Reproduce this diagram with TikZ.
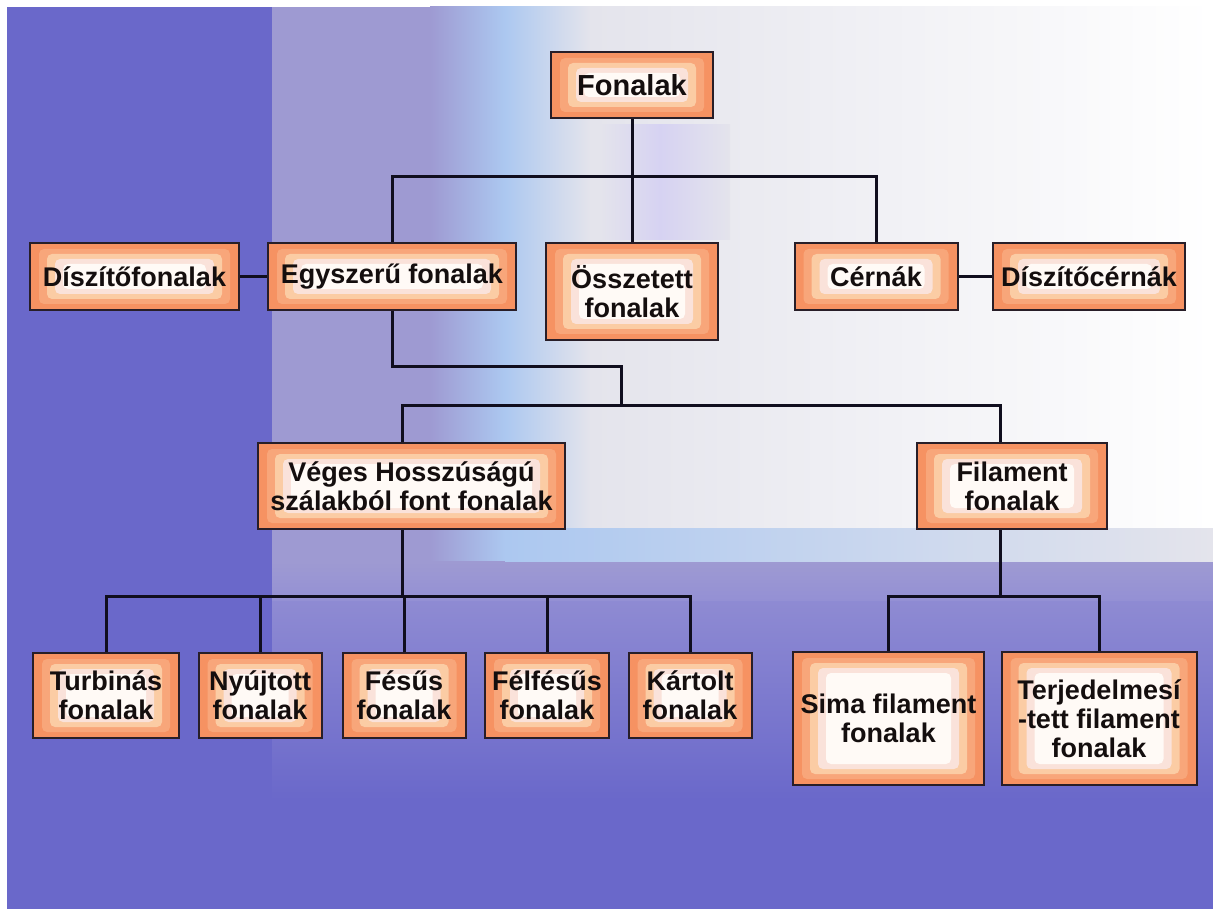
\documentclass[tikz,border=0pt]{standalone}
\usepackage{fontspec}
\setmainfont{Liberation Sans}
\definecolor{bgblue}{RGB}{106,104,202}
\definecolor{lav}{RGB}{158,154,210}
\definecolor{lavtwo}{RGB}{148,144,212}
\definecolor{lightblue}{RGB}{172,200,240}
\definecolor{greyw}{RGB}{228,228,236}
\definecolor{lpur}{RGB}{214,210,242}
\definecolor{orone}{RGB}{246,146,98}
\definecolor{ortwo}{RGB}{248,166,122}
\definecolor{orthree}{RGB}{251,204,164}
\definecolor{orfour}{RGB}{250,226,218}
\definecolor{orfive}{RGB}{255,250,246}
\definecolor{boxline}{RGB}{40,30,40}
\definecolor{lnc}{RGB}{16,14,30}
\definecolor{txt}{RGB}{20,14,14}
\begin{document}
\begin{tikzpicture}[x=1pt,y=-1pt,
  inset/.style={rounded corners=5pt},
  box/.style={draw=boxline, line width=2pt, fill=orone, inner sep=0pt,
    align=center, text=txt, font=\bfseries\fontsize{27}{29}\selectfont,
    path picture={
      \fill[ortwo,inset] ([xshift=9pt,yshift=-6pt]path picture bounding box.north west) rectangle ([xshift=-9pt,yshift=6pt]path picture bounding box.south east);
      \fill[orthree,inset] ([xshift=17pt,yshift=-11pt]path picture bounding box.north west) rectangle ([xshift=-17pt,yshift=11pt]path picture bounding box.south east);
      \fill[orfour,inset] ([xshift=25pt,yshift=-16pt]path picture bounding box.north west) rectangle ([xshift=-25pt,yshift=16pt]path picture bounding box.south east);
      \fill[orfive,inset] ([xshift=33pt,yshift=-21pt]path picture bounding box.north west) rectangle ([xshift=-33pt,yshift=21pt]path picture bounding box.south east);
    }},
  conn/.style={draw=lnc, line width=3pt}]
\useasboundingbox (0,0) rectangle (1213,909);
% background
\fill[white] (0,0) rectangle (1213,909);
\fill[bgblue] (7,7) rectangle (1213,909);
\fill[lav] (272,7) rectangle (1213,570);
\shade[top color=lavtwo, bottom color=bgblue] (272,570) rectangle (1213,800);
\shade[left color=lav, right color=lightblue] (430,7) rectangle (505,560);
\shade[left color=lightblue, right color=greyw] (505,7) rectangle (590,545);
\shade[left color=greyw, right color=white] (590,7) rectangle (1213,545);
\shade[left color=greyw, right color=lpur] (600,125) rectangle (660,240);
\shade[left color=lpur, right color=greyw] (660,125) rectangle (730,240);
\shade[left color=lightblue, right color=greyw] (505,528) rectangle (1213,565);
\shade[top color=lav, bottom color=lavtwo] (272,562) rectangle (1213,600);

% nodes
\node[box, minimum width=162pt, minimum height=66pt, font=\bfseries\fontsize{29}{32}\selectfont] (top) at (632,85) {Fonalak};
\node[box, minimum width=209pt, minimum height=67pt] (disz) at (134.5,276.5) {Díszítőfonalak};
\node[box, minimum width=248pt, minimum height=67pt] (egy) at (392,276.5) {Egyszerű fonalak};
\node[box, minimum width=172pt, minimum height=97pt] (ossz) at (632,291.5) {Összetett\\fonalak};
\node[box, minimum width=163pt, minimum height=67pt] (cern) at (876,276.5) {Cérnák};
\node[box, minimum width=192pt, minimum height=67pt] (dcern) at (1089,276.5) {Díszítőcérnák};
\node[box, minimum width=307pt, minimum height=86pt] (veges) at (411.5,486) {Véges Hosszúságú\\szálakból font fonalak};
\node[box, minimum width=190pt, minimum height=86pt] (fil) at (1012,486) {Filament\\fonalak};
\node[box, minimum width=146pt, minimum height=85pt] (turb) at (106,695.5) {Turbinás\\fonalak};
\node[box, minimum width=123pt, minimum height=85pt] (nyuj) at (260,695.5) {Nyújtott\\fonalak};
\node[box, minimum width=123pt, minimum height=85pt] (fesus) at (404,695.5) {Fésűs\\fonalak};
\node[box, minimum width=124pt, minimum height=85pt] (felf) at (547,695.5) {Félfésűs\\fonalak};
\node[box, minimum width=123pt, minimum height=85pt] (kart) at (690,695.5) {Kártolt\\fonalak};
\node[box, minimum width=191pt, minimum height=133pt] (sima) at (888.5,718.5) {Sima filament\\fonalak};
\node[box, minimum width=195pt, minimum height=133pt] (terj) at (1099,718.5) {Terjedelmesí\\-tett filament\\fonalak};

% connector helpers
\coordinate (b1) at (0,177);
\coordinate (k1) at (621,366);
\coordinate (b2) at (0,405);
\coordinate (vx) at (402,0);
\coordinate (fx) at (1000,0);
\coordinate (b3) at (0,596);

% connectors
\draw[conn] (top.south) -- (top.south |- b1);
\draw[conn] (egy.north) -- (egy.north |- b1) -- (cern.north |- b1) -- (cern.north);
\draw[conn] (ossz.north) -- (ossz.north |- b1);
\draw[conn] (disz.east) -- (egy.west);
\draw[conn] (cern.east) -- (dcern.west);
\draw[conn] (egy.south) -- (egy.south |- k1) -- (k1) -- (k1 |- b2);
\draw[conn] (veges.north -| vx) -- (vx |- b2) -- (fx |- b2) -- (fil.north -| fx);
\draw[conn] (veges.south -| vx) -- (vx |- b3);
\draw[conn] (turb.north) -- (turb.north |- b3) -- (kart.north |- b3) -- (kart.north);
\draw[conn] (nyuj.north) -- (nyuj.north |- b3);
\draw[conn] (fesus.north) -- (fesus.north |- b3);
\draw[conn] (felf.north) -- (felf.north |- b3);
\draw[conn] (fil.south -| fx) -- (fx |- b3);
\draw[conn] (sima.north) -- (sima.north |- b3) -- (terj.north |- b3) -- (terj.north);
\end{tikzpicture}
\end{document}
